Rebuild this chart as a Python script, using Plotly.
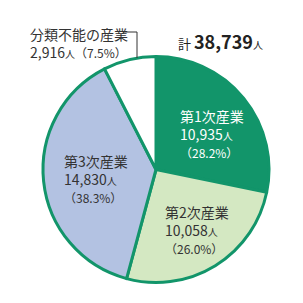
import plotly.graph_objects as go

categories = ["第1次産業", "第2次産業", "第3次産業", "分類不能の産業"]
values = [10935, 10058, 14830, 2916]
percents = [28.2, 26.0, 38.3, 7.5]
total = 38739
colors = ["#12956a", "#d4e8c2", "#b3c2e2", "#ffffff"]
border = "#12956a"

FONT = "Noto Sans CJK JP, Noto Sans, sans-serif"

fig = go.Figure(go.Pie(
    labels=categories, values=values, sort=False, direction="clockwise",
    rotation=0, textinfo="none", hoverinfo="none",
    marker=dict(colors=colors, line=dict(color=border, width=3)),
    domain=dict(x=[43/303, 269/303], y=[20/303, 247/303]),
    showlegend=False,
))

def fmt(v):
    return f"{v:,}"

# label positions (paper coords) and text colors
pos = [(178, 104), (163, 200), (62, 149), (28, 22)]
tcolor = ["#ffffff", "#333333", "#333333", "#333333"]

anns = []
for i, c in enumerate(categories):
    x, y = pos[i]
    if i == 3:
        txt = (f"{c}<br>{fmt(values[i])}<span style='font-size:10px'>人</span>"
               f"<span style='font-size:12px'>（{percents[i]:.1f}%）</span>")
    else:
        txt = (f"{c}<br>{fmt(values[i])}<span style='font-size:10px'>人</span>"
               f"<br><span style='font-size:12px'>（{percents[i]:.1f}%）</span>")
    anns.append(dict(
        x=x/303, y=1 - y/303, xref="paper", yref="paper",
        xanchor="left", yanchor="top", align="left", showarrow=False,
        text=txt, font=dict(family=FONT, size=14, color=tcolor[i]),
    ))

anns.append(dict(
    x=176/303, y=1 - 41/303, xref="paper", yref="paper",
    xanchor="left", yanchor="middle", showarrow=False,
    text=(f"<span style='font-size:13px'>計 </span><b>{fmt(total)}</b>"
          f"<span style='font-size:10px'>人</span>"),
    font=dict(family=FONT, size=18, color="#222222"),
))

fig.update_layout(
    width=303, height=303, margin=dict(l=0, r=0, t=0, b=0),
    paper_bgcolor="white", plot_bgcolor="white",
    annotations=anns,
    shapes=[
        dict(type="line", xref="paper", yref="paper",
             x0=123/303, x1=137/303, y0=1 - 32/303, y1=1 - 32/303,
             line=dict(color="#333333", width=1)),
        dict(type="line", xref="paper", yref="paper",
             x0=137/303, x1=137/303, y0=1 - 32/303, y1=1 - 58/303,
             line=dict(color="#333333", width=1)),
    ],
)

fig.write_html("out.html")
